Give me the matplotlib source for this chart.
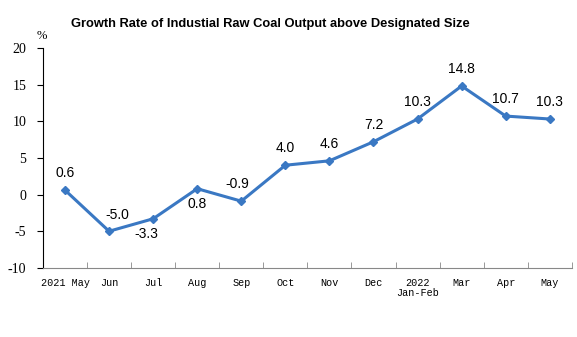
import matplotlib.pyplot as plt

months = ['2021 May', 'Jun', 'Jul', 'Aug', 'Sep', 'Oct', 'Nov', 'Dec',
          '2022\nJan-Feb', 'Mar', 'Apr', 'May']
growth = [0.6, -5.0, -3.3, 0.8, -0.9, 4.0, 4.6, 7.2, 10.3, 14.8, 10.7, 10.3]
label_pos = ['up', 'up', 'down', 'down', 'up', 'up', 'up', 'up', 'up', 'up', 'up', 'up']
label_dx = [0, 6, -5, 0, -3, 0, 0, 0, 0, 0, 0, 0]

fig = plt.figure(figsize=(5.77, 3.37), dpi=100)
ax = fig.add_axes([0.0745, 0.205, 0.9165, 0.653])

x = list(range(len(months)))
ax.plot(x, growth, color='#3a78c3', lw=2.2, marker='D', ms=4.5, zorder=3)

for xi, v, p, dx in zip(x, growth, label_pos, label_dx):
    dy = 7 if p == 'up' else -6
    ax.annotate(f'{v:.1f}', (xi, v), xytext=(dx, dy), textcoords='offset points',
                ha='center', va='bottom' if p == 'up' else 'top',
                fontsize=10, family='Liberation Sans')

ax.set_xlim(-0.5, len(months) - 0.5)
ax.set_ylim(-10, 20)
ax.set_yticks(range(-10, 21, 5))
ax.set_xticks(x)
ax.set_xticks([i - 0.5 for i in range(len(months) + 1)], minor=True)
ax.tick_params(axis='x', which='major', length=0, pad=7)
ax.tick_params(axis='x', which='minor', length=4, direction='in', color='#888888')
ax.tick_params(axis='y', length=4, direction='out', pad=8)
ax.spines['top'].set_visible(False)
ax.spines['right'].set_visible(False)
ax.spines['bottom'].set_position(('data', -10))
ax.spines['bottom'].set_color('#888888')

ax.set_yticklabels([str(v) for v in range(-10, 21, 5)], family='Liberation Serif', fontsize=10)
ax.set_xticklabels(months, family='Liberation Mono', fontsize=7.3, linespacing=1.1)

fig.text(0.064, 0.875, '%', family='Liberation Serif', fontsize=9,
         ha='left', va='bottom')
fig.text(0.468, 0.93, 'Growth Rate of Industial Raw Coal Output above Designated Size',
         ha='center', va='center', fontsize=9.3, weight='bold', family='Liberation Sans')

fig.savefig('out.png', dpi=100)
